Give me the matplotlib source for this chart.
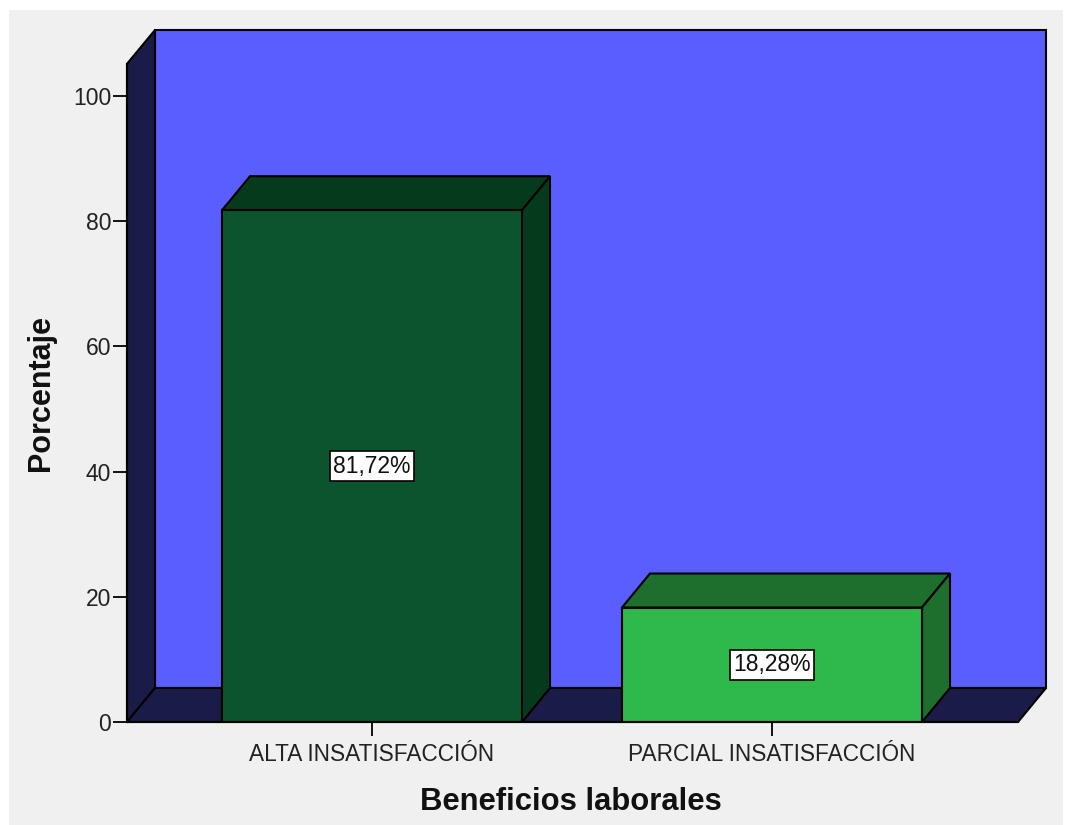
import matplotlib
matplotlib.use("Agg")
import matplotlib.pyplot as plt
from matplotlib.patches import Polygon, Rectangle

plt.rcParams['font.family'] = ['Liberation Sans', 'DejaVu Sans']

# --- datos ---
CATEGORIAS = ["ALTA INSATISFACCIÓN", "PARCIAL INSATISFACCIÓN"]
PORCENTAJES = [81.72, 18.28]
Y_TICKS = [0, 20, 40, 60, 80, 100]

# colores: cara frontal / cara superior y lateral
FRENTE = ['#0b542e', '#2fb94b']
SOMBRA = ['#063a1d', '#1e6f2e']
PARED = '#5a5eff'
PISO = '#1a1b47'
FONDO = '#f0f0f0'

# profundidad del efecto 3D (en unidades de datos)
DX, DY = 0.07, 5.43
ANCHO = 0.75
X0, X1 = -0.6125, 1.615   # borde frontal del piso
YTOP = 105.1              # borde frontal superior de la pared lateral

fig = plt.figure(figsize=(10.65, 8.25), dpi=100)
fig.patch.set_facecolor('white')
fig.patches.append(Rectangle((9 / 1065, 0), 1054 / 1065, 815 / 825,
                             transform=fig.transFigure, facecolor=FONDO,
                             edgecolor='none', zorder=-10))

ax = fig.add_axes([127 / 1065, 103 / 825, 919 / 1065, 692 / 825])
ax.set_facecolor('none')
ax.set_xlim(X0, X1 + DX)
ax.set_ylim(0, 110.5)

# pared del fondo, pared lateral y piso
ax.add_patch(Polygon([(X0 + DX, DY), (X1 + DX, DY), (X1 + DX, 110.5), (X0 + DX, 110.5)],
                     closed=True, facecolor=PARED, edgecolor='black', lw=1.5, zorder=1,
                     clip_on=False))
ax.add_patch(Polygon([(X0, 0), (X0 + DX, DY), (X0 + DX, 110.5), (X0, YTOP)],
                     closed=True, facecolor=PISO, edgecolor='black', lw=1.5, zorder=2,
                     clip_on=False))
ax.add_patch(Polygon([(X0, 0), (X1, 0), (X1 + DX, DY), (X0 + DX, DY)],
                     closed=True, facecolor=PISO, edgecolor='black', lw=1.5, zorder=2,
                     clip_on=False))

# barras con caras superior y lateral
xs = list(range(len(CATEGORIAS)))
ax.bar(xs, PORCENTAJES, width=ANCHO, color=FRENTE, edgecolor='black', lw=1.5, zorder=4)
for x, v, c in zip(xs, PORCENTAJES, SOMBRA):
    l, r = x - ANCHO / 2, x + ANCHO / 2
    ax.add_patch(Polygon([(l, v), (r, v), (r + DX, v + DY), (l + DX, v + DY)],
                         closed=True, facecolor=c, edgecolor='black', lw=1.5, zorder=3))
    ax.add_patch(Polygon([(r, 0), (r + DX, DY), (r + DX, v + DY), (r, v)],
                         closed=True, facecolor=c, edgecolor='black', lw=1.5, zorder=3))
    etiqueta = f"{v:.2f}".replace('.', ',') + '%'
    ax.text(x, v / 2, etiqueta, ha='center', va='center', fontsize=16.5, color='#111111',
            zorder=6, bbox=dict(boxstyle='square,pad=0.15', facecolor='white',
                                edgecolor='black', lw=1.2))

# ejes
for s in ['top', 'right']:
    ax.spines[s].set_visible(False)
ax.spines['left'].set_bounds(0, YTOP)
ax.spines['bottom'].set_bounds(X0, X1)
ax.spines['left'].set_zorder(5)
ax.spines['bottom'].set_zorder(5)
ax.spines['left'].set_linewidth(1.5)
ax.spines['bottom'].set_linewidth(1.5)

ax.set_yticks(Y_TICKS)
ax.set_xticks(xs)
ax.set_xticklabels(CATEGORIAS)
ax.tick_params(axis='y', length=10, width=1.3, pad=1.5, labelsize=16.5, labelcolor='#222222')
ax.tick_params(axis='x', length=10, width=1.3, pad=5, labelsize=16.3, labelcolor='#222222')

fig.text(41 / 1065, 1 - 393 / 825, "Porcentaje", rotation=90, ha='center', va='center',
         fontsize=22, fontweight='bold', color='#111111')
fig.text(571 / 1065, 1 - 802 / 825, "Beneficios laborales", ha='center', va='center',
         fontsize=22.3, fontweight='bold', color='#111111')

fig.savefig("out.png", dpi=100)
